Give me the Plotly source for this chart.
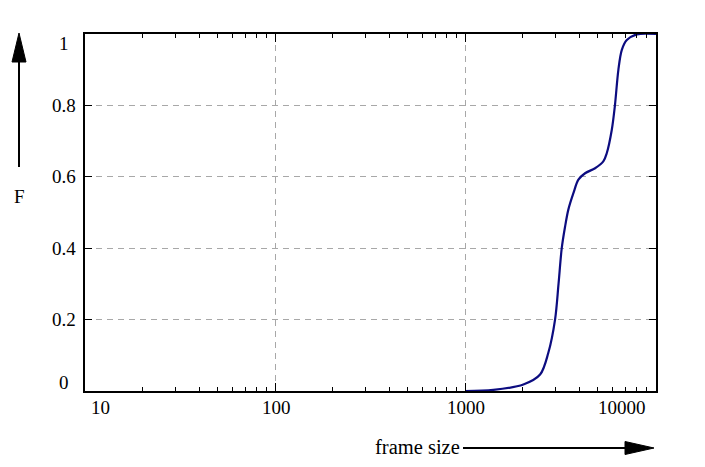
import math
import plotly.graph_objects as go

# ---- data ----
frame_size = [1000, 1409, 2027, 2483, 2744, 2977, 3105, 3228, 3360, 3497,
              3718, 3950, 4282, 4835, 5343, 5570, 5918, 6150, 6410, 6680, 7100,
              8020, 10120]
cdf_F = [0.0, 0.003, 0.018, 0.046, 0.107, 0.20, 0.30, 0.40, 0.46, 0.508,
         0.554, 0.592, 0.610, 0.624, 0.643, 0.666, 0.731, 0.80, 0.899, 0.955, 0.983,
         0.999, 1.0]

x_tick_vals = [10, 100, 1000, 10000]
x_tick_text = ["10", "100", "1000", "10000"]
y_tick_vals = [0, 0.2, 0.4, 0.6, 0.8, 1.0]
y_tick_text = ["0", "0.2", "0.4", "0.6", "0.8", "1"]

# ---- style ----
BODY = 8  # default page margin of the html body
W, H = 705 - BODY, 467 - BODY
L, R, T, B = 85 - BODY, 49, 34 - BODY, 76
PW, PH = W - L - R, H - T - B
FONT = "Liberation Serif"
FS = 19
LINE_COL = "#0c0c80"

def px(xp):  # window pixel -> paper x
    return (xp - BODY - L) / PW

def py(yp):  # window pixel -> paper y
    return (H - B - (yp - BODY)) / PH

fig = go.Figure()
fig.add_trace(go.Scatter(
    x=frame_size, y=cdf_F, mode="lines",
    line=dict(color=LINE_COL, width=2.2, shape="spline", smoothing=0.9),
    showlegend=False, hoverinfo="skip"))

fig.update_xaxes(
    type="log", range=[1, 4.005],
    tickvals=x_tick_vals, showticklabels=False,
    ticks="inside", ticklen=8, tickwidth=1.3, tickcolor="black",
    minor=dict(ticks="inside", ticklen=4, tickwidth=1.3, tickcolor="black",
               dtick="D1", showgrid=False),
    showline=True, linecolor="black", linewidth=2, mirror="ticks",
    showgrid=True, gridcolor="#a8a8a8", gridwidth=1, griddash="6px,5px",
    zeroline=False)
fig.update_yaxes(
    range=[0, 1], tickvals=y_tick_vals, showticklabels=False,
    ticks="inside", ticklen=7, tickwidth=1.3, tickcolor="black",
    showline=True, linecolor="black", linewidth=2, mirror="ticks",
    showgrid=True, gridcolor="#a8a8a8", gridwidth=1, griddash="6px,5px",
    zeroline=False)

annotations = []
# x tick labels (log axis: annotation x is given in log10 units)
x_shifts = [15, 1, 1, -33]
for v, t, s in zip(x_tick_vals, x_tick_text, x_shifts):
    annotations.append(dict(x=math.log10(v), xref="x", y=0, yref="paper", text=t,
                            showarrow=False, xanchor="center", yanchor="middle",
                            xshift=s, yshift=-16,
                            font=dict(family=FONT, size=FS, color="black")))
# y tick labels
y_shifts = [9, 0, 0, 0, 0, -9]
for v, t, s in zip(y_tick_vals, y_tick_text, y_shifts):
    annotations.append(dict(x=0, xref="paper", y=v, yref="y", text=t,
                            showarrow=False, xanchor="center", yanchor="middle",
                            xshift=-21, yshift=s,
                            font=dict(family=FONT, size=FS, color="black")))
# axis titles
annotations.append(dict(x=px(19), y=py(196), xref="paper", yref="paper", text="F",
                        showarrow=False, xanchor="center", yanchor="middle",
                        font=dict(family=FONT, size=FS, color="black")))
annotations.append(dict(x=px(462), y=py(447), xref="paper", yref="paper",
                        text="frame size", showarrow=False,
                        xanchor="right", yanchor="middle",
                        font=dict(family=FONT, size=20.5, color="black")))

shapes = [
    # vertical arrow for F
    dict(type="line", xref="paper", yref="paper", x0=px(19), x1=px(19),
         y0=py(167), y1=py(55), line=dict(color="black", width=2)),
    dict(type="path", xref="paper", yref="paper",
         path=f"M {px(19)} {py(33)} L {px(12)} {py(62)} L {px(26)} {py(62)} Z",
         fillcolor="black", line=dict(color="black", width=1)),
    # horizontal arrow for frame size
    dict(type="line", xref="paper", yref="paper", x0=px(463), x1=px(630),
         y0=py(448), y1=py(448), line=dict(color="black", width=2)),
    dict(type="path", xref="paper", yref="paper",
         path=f"M {px(654)} {py(448)} L {px(625)} {py(441.5)} L {px(625)} {py(454.5)} Z",
         fillcolor="black", line=dict(color="black", width=1)),
]

fig.update_layout(
    width=W, height=H,
    margin=dict(l=L, r=R, t=T, b=B, pad=0),
    paper_bgcolor="white", plot_bgcolor="white",
    annotations=annotations, shapes=shapes,
    font=dict(family=FONT, size=FS, color="black"))

fig.write_html("out.html")
